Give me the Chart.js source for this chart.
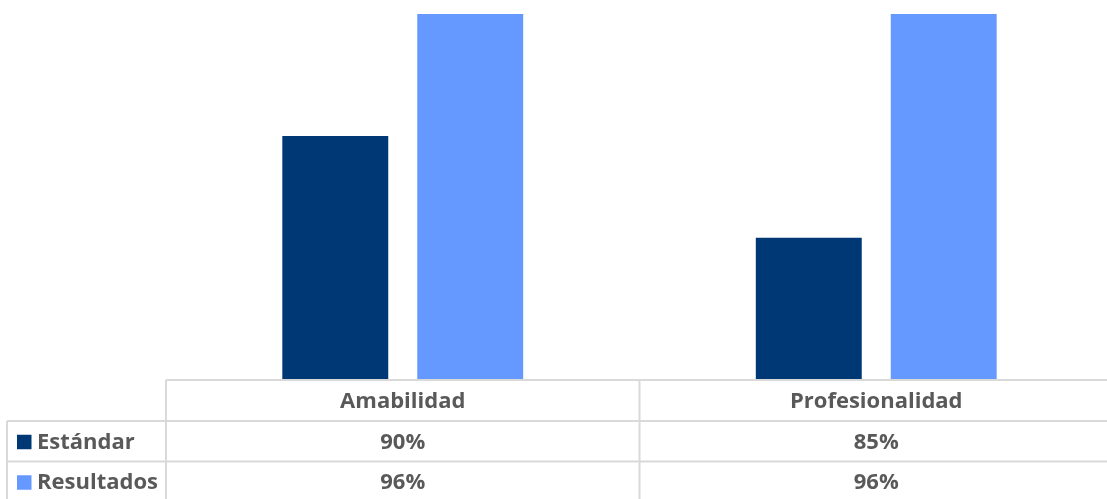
<!DOCTYPE html>
<html>
<head>
<meta charset="utf-8">
<script src="https://cdn.jsdelivr.net/npm/chart.js@4"></script>
<style>
  html, body { margin: 0; padding: 0; background: #fff; overflow: hidden; }
  #wrap { width: 1113px; height: 499px; }
</style>
</head>
<body>
<div id="wrap"><canvas id="chart" width="1113" height="499"></canvas></div>
<script>
const categories = ["Amabilidad", "Profesionalidad"];
const seriesNames = ["Estándar", "Resultados"];
const estandar = [90, 85];
const resultados = [96, 96];
const colors = ["#003876", "#6699FF"];

const lineColor = "#d9d9d9";
const textColor = "#595959";
const tableFont = "bold 22px 'Open Sans'";

// dibuja la tabla de datos debajo del gráfico, estilo Excel
const dataTable = {
    id: "dataTable",
    afterDraw(chart) {
        const ctx = chart.ctx;
        const area = chart.chartArea;
        const x = chart.scales.x;
        const top = area.bottom;
        const rows = [top, top + 41, top + 81.5, top + 122];
        const left = 7;
        const right = area.right;

        ctx.save();
        ctx.strokeStyle = lineColor;
        ctx.lineWidth = 2;
        ctx.beginPath();
        // líneas horizontales
        ctx.moveTo(area.left, rows[0]); ctx.lineTo(right, rows[0]);
        ctx.moveTo(left, rows[1]); ctx.lineTo(right, rows[1]);
        ctx.moveTo(left, rows[2]); ctx.lineTo(right, rows[2]);
        // líneas verticales
        ctx.moveTo(left, rows[1]); ctx.lineTo(left, rows[3]);
        ctx.moveTo(area.left, rows[0]); ctx.lineTo(area.left, rows[3]);
        for (let i = 1; i < categories.length; i++) {
            const bx = (x.getPixelForValue(i - 1) + x.getPixelForValue(i)) / 2;
            ctx.moveTo(bx, rows[0]); ctx.lineTo(bx, rows[3]);
        }
        ctx.stroke();

        ctx.font = tableFont;
        ctx.fillStyle = textColor;
        ctx.textAlign = "center";
        ctx.textBaseline = "middle";
        categories.forEach((c, i) => {
            ctx.fillText(c, x.getPixelForValue(i), (rows[0] + rows[1]) / 2 + 1);
        });
        chart.data.datasets.forEach((ds, r) => {
            const cy = (rows[r + 1] + rows[r + 2]) / 2 + 1;
            ds.data.forEach((v, i) => {
                ctx.fillStyle = textColor;
                ctx.textAlign = "center";
                ctx.fillText(v + "%", x.getPixelForValue(i), cy);
            });
            // clave de leyenda
            ctx.fillStyle = ds.backgroundColor;
            ctx.fillRect(17, cy - 7.5, 14.5, 14.5);
            ctx.fillStyle = textColor;
            ctx.textAlign = "left";
            ctx.fillText(ds.label, 37, cy);
        });
        ctx.restore();
    }
};

new Chart(document.getElementById("chart"), {
    type: "bar",
    data: {
        labels: categories,
        datasets: [
            { label: seriesNames[0], data: estandar, backgroundColor: colors[0] },
            { label: seriesNames[1], data: resultados, backgroundColor: colors[1] }
        ]
    },
    options: {
        responsive: false,
        animation: false,
        datasets: { bar: { categoryPercentage: 0.57, barPercentage: 0.785 } },
        layout: { padding: { left: 166, top: 14, right: 0, bottom: 119 } },
        plugins: { legend: { display: false }, tooltip: { enabled: false } },
        scales: {
            x: { display: false },
            y: { display: false, min: 78, max: 96 }
        }
    },
    plugins: [dataTable]
});
</script>
</body>
</html>
